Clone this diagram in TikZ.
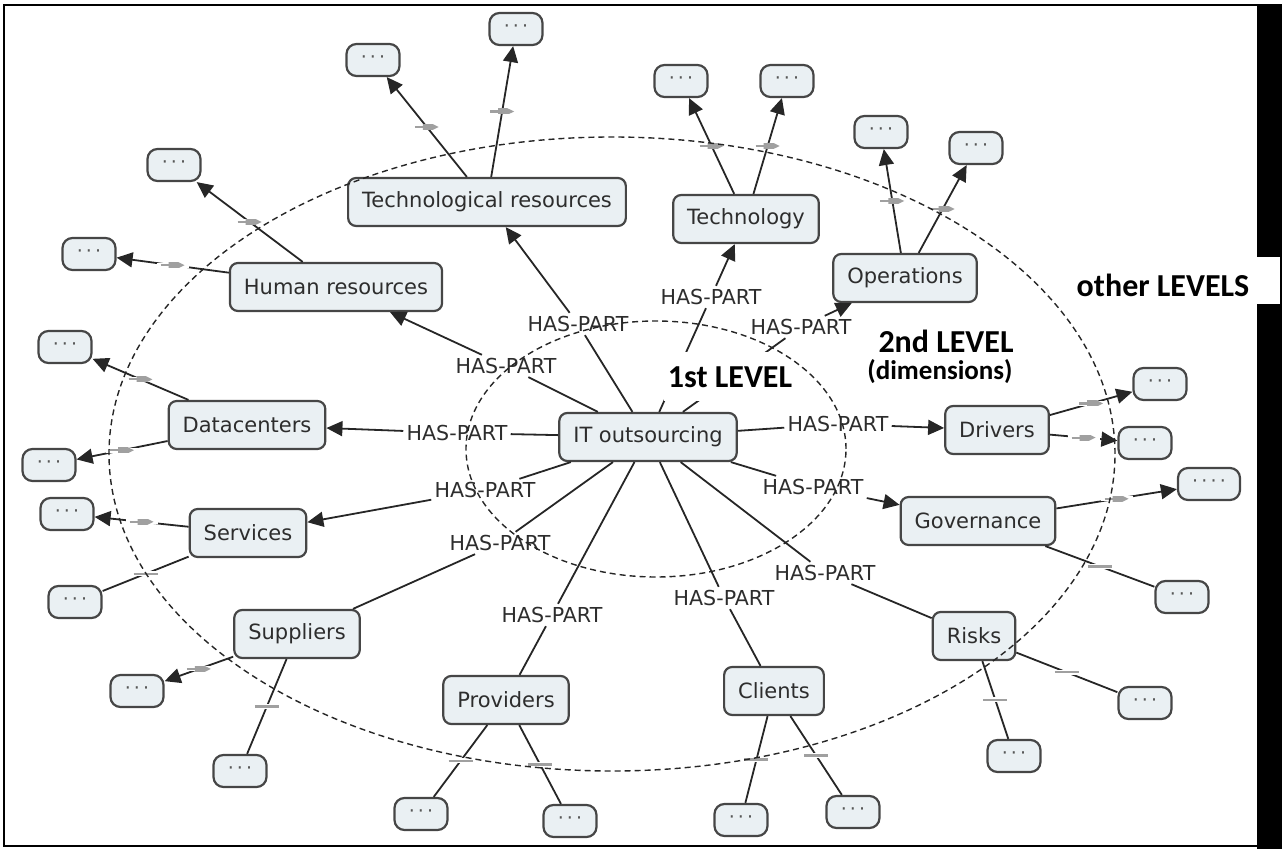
\documentclass[tikz,border=0pt]{standalone}
\usepackage{fontspec}
\setmainfont{DejaVu Sans}
\newfontfamily\levelfont{Carlito}
\usetikzlibrary{arrows.meta}
\definecolor{conceptfill}{RGB}{234,240,243}
\definecolor{conceptdraw}{RGB}{70,70,70}
\definecolor{inktext}{RGB}{45,45,45}
\definecolor{barcol}{RGB}{160,160,160}
\newcommand{\dotrow}[1]{\foreach \d in {1,...,#1}{\ifnum\d>1\,\fi·}}

\begin{document}
\begin{tikzpicture}[x=0.5pt, y=-0.5pt,
  dimbox/.style={draw=conceptdraw, fill=conceptfill, rounded corners=4pt, line width=1.1pt, text=inktext, font=\fontsize{10.5}{12}\selectfont, inner xsep=7pt, minimum height=24pt},
  leafbox/.style={draw=conceptdraw, fill=conceptfill, rounded corners=5pt, line width=1.1pt, text=inktext!80, font=\fontsize{9.5}{11}\selectfont, minimum width=26.5pt, minimum height=16pt, inner sep=0pt},
  relname/.style={text=inktext, font=\fontsize{10.3}{12}\selectfont, inner sep=1.5pt},
  levelnote/.style={font=\levelfont\bfseries\fontsize{16}{19}\selectfont, text=black},
  haspart/.style={draw=black!85, line width=0.9pt},
  arrowline/.style={haspart, -{Triangle[length=8pt, width=7.5pt]}},
  gapbar/.style={inner sep=0pt, minimum width=16pt, minimum height=2.5pt, fill=white, path picture={\draw[barcol, line width=1.1pt] ([xshift=2pt]path picture bounding box.west) -- ([xshift=-2pt]path picture bounding box.east);}},
  levelring/.style={draw=black!85, dash pattern=on 3pt off 2pt, line width=0.7pt}
]
\useasboundingbox (0,0) rectangle (1282,849);
\draw[line width=1pt] (1257,5) -- (4,5) -- (4,846) -- (1257,846);
\fill[black] (1257,4) rectangle (1282,849);
\fill[white] (1070,257) rectangle (1280,304);

\node[dimbox] (it) at (648,437) {IT outsourcing};
\node[dimbox] (techres) at (487,202) {Technological resources};
\node[dimbox] (tech) at (746,219) {Technology};
\node[dimbox] (ops) at (905,278) {Operations};
\node[dimbox] (hr) at (336,287) {Human resources};
\node[dimbox] (dc) at (247,425) {Datacenters};
\node[dimbox] (drv) at (997,430) {Drivers};
\node[dimbox] (gov) at (978,521) {Governance};
\node[dimbox] (srv) at (248,533) {Services};
\node[dimbox] (sup) at (297,634) {Suppliers};
\node[dimbox] (prov) at (506,700) {Providers};
\node[dimbox] (cli) at (774,691) {Clients};
\node[dimbox] (risk) at (974,636) {Risks};

\node[leafbox] (tr1) at (373,60) {\dotrow{3}};
\node[leafbox] (tr2) at (516,29) {\dotrow{3}};
\node[leafbox] (te1) at (681,81) {\dotrow{3}};
\node[leafbox] (te2) at (787,81) {\dotrow{3}};
\node[leafbox] (op1) at (881,132) {\dotrow{3}};
\node[leafbox] (op2) at (976,148) {\dotrow{3}};
\node[leafbox] (hr1) at (174,165) {\dotrow{3}};
\node[leafbox] (hr2) at (89,254) {\dotrow{3}};
\node[leafbox] (dc1) at (65,347) {\dotrow{3}};
\node[leafbox] (dc2) at (49,465) {\dotrow{3}};
\node[leafbox] (sv1) at (67,514) {\dotrow{3}};
\node[leafbox] (sv2) at (75,602) {\dotrow{3}};
\node[leafbox] (su1) at (137,691) {\dotrow{3}};
\node[leafbox] (su2) at (240,771) {\dotrow{3}};
\node[leafbox] (pr1) at (421,814) {\dotrow{3}};
\node[leafbox] (pr2) at (570,821) {\dotrow{3}};
\node[leafbox] (cl1) at (741,820) {\dotrow{3}};
\node[leafbox] (cl2) at (853,812) {\dotrow{3}};
\node[leafbox] (ri1) at (1014,756) {\dotrow{3}};
\node[leafbox] (ri2) at (1145,703) {\dotrow{3}};
\node[leafbox, minimum width=31pt] (go1) at (1209,484) {\dotrow{4}};
\node[leafbox] (go2) at (1182,597) {\dotrow{3}};
\node[leafbox] (dr1) at (1160,384) {\dotrow{3}};
\node[leafbox] (dr2) at (1145,443) {\dotrow{3}};

\node[relname] (l-techres) at (578,324) {HAS-PART};
\node[relname] (l-tech) at (711,297) {HAS-PART};
\node[relname] (l-ops) at (801,327) {HAS-PART};
\node[relname] (l-hr) at (506,366) {HAS-PART};
\node[relname] (l-dc) at (457,433) {HAS-PART};
\node[relname] (l-srv) at (485,490) {HAS-PART};
\node[relname] (l-sup) at (500,543) {HAS-PART};
\node[relname] (l-prov) at (552,615) {HAS-PART};
\node[relname] (l-cli) at (724,598) {HAS-PART};
\node[relname] (l-risk) at (825,573) {HAS-PART};
\node[relname] (l-gov) at (813,487) {HAS-PART};
\node[relname] (l-drv) at (838,424) {HAS-PART};

\draw[haspart] (it) -- (l-techres);
\draw[arrowline] (l-techres) -- (techres);
\draw[haspart] (it) -- (l-tech);
\draw[arrowline] (l-tech) -- (tech);
\draw[haspart] (it) -- (l-ops);
\draw[arrowline] (l-ops) -- (ops);
\draw[haspart] (it) -- (l-hr);
\draw[arrowline] (l-hr) -- (hr);
\draw[haspart] (it) -- (l-dc);
\draw[arrowline] (l-dc) -- (dc);
\draw[haspart] (it) -- (l-srv);
\draw[arrowline] (l-srv) -- (srv);
\draw[haspart] (it) -- (l-sup);
\draw[haspart] (l-sup) -- (sup);
\draw[haspart] (it) -- (l-prov);
\draw[haspart] (l-prov) -- (prov);
\draw[haspart] (it) -- (l-cli);
\draw[haspart] (l-cli) -- (cli);
\draw[haspart] (it) -- (l-risk);
\draw[haspart] (l-risk) -- (risk);
\draw[haspart] (it) -- (l-gov);
\draw[arrowline] (l-gov) -- (gov);
\draw[haspart] (it) -- (l-drv);
\draw[arrowline] (l-drv) -- (drv);

\draw[arrowline] (techres) -- node[gapbar]{} (tr1);
\draw[arrowline] (techres) -- node[gapbar]{} (tr2);
\draw[arrowline] (tech) -- node[gapbar]{} (te1);
\draw[arrowline] (tech) -- node[gapbar]{} (te2);
\draw[arrowline] (ops) -- node[gapbar]{} (op1);
\draw[arrowline] (ops) -- node[gapbar]{} (op2);
\draw[arrowline] (hr) -- node[gapbar]{} (hr1);
\draw[arrowline] (hr) -- node[gapbar]{} (hr2);
\draw[arrowline] (dc) -- node[gapbar]{} (dc1);
\draw[arrowline] (dc) -- node[gapbar]{} (dc2);
\draw[arrowline] (srv) -- node[gapbar]{} (sv1);
\draw[haspart] (srv) -- node[gapbar]{} (sv2);
\draw[arrowline] (sup) -- node[gapbar]{} (su1);
\draw[haspart] (sup) -- node[gapbar]{} (su2);
\draw[haspart] (prov) -- node[gapbar]{} (pr1);
\draw[haspart] (prov) -- node[gapbar]{} (pr2);
\draw[haspart] (cli) -- node[gapbar]{} (cl1);
\draw[haspart] (cli) -- node[gapbar]{} (cl2);
\draw[haspart] (risk) -- node[gapbar]{} (ri1);
\draw[haspart] (risk) -- node[gapbar]{} (ri2);
\draw[arrowline] (gov) -- node[gapbar]{} (go1);
\draw[haspart] (gov) -- node[gapbar]{} (go2);
\draw[arrowline] (drv) -- node[gapbar]{} (dr1);
\draw[arrowline] (drv) -- node[gapbar]{} (dr2);

\node[levelnote, fill=white, inner xsep=2pt, minimum height=24.5pt] (first) at (730,377) {1st LEVEL};
\node[levelnote] (second) at (946,341) {2nd LEVEL};
\node[levelnote, font=\levelfont\bfseries\fontsize{13.5}{16}\selectfont] (dims) at (940,372) {(dimensions)};
\node[levelnote] (others) at (1163,285) {other LEVELS};

\draw[levelring] (656,449) ellipse [x radius=95pt, y radius=64pt];
\draw[levelring] (612,454) ellipse [x radius=251.5pt, y radius=158.5pt];
\end{tikzpicture}
\end{document}
